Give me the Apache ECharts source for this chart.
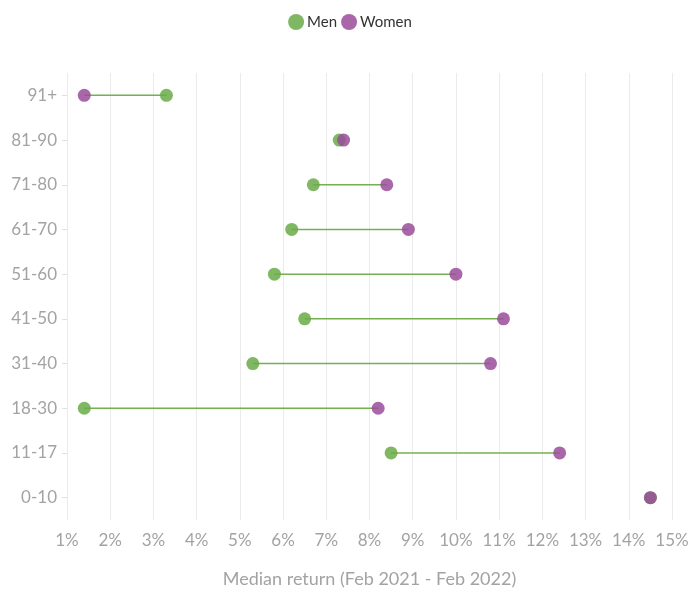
<!DOCTYPE html>
<html>
<head>
<meta charset="utf-8">
<script src="https://cdn.jsdelivr.net/npm/echarts@6/dist/echarts.min.js"></script>
<style>html,body{margin:0;padding:0;background:#fff}#c{width:700px;height:600px}</style>
</head>
<body>
<div id="c"></div>
<script>
var categories = ['0-10','11-17','18-30','31-40','41-50','51-60','61-70','71-80','81-90','91+'];
var menValues   = [14.5, 8.5, 1.4, 5.3, 6.5, 5.8, 6.2, 6.7, 7.3, 3.3];
var womenValues = [14.5, 12.4, 8.2, 10.8, 11.1, 10.0, 8.9, 8.4, 7.4, 1.4];
var xTicks = [1,2,3,4,5,6,7,8,9,10,11,12,13,14,15];

var FONT = 'Lato, "Open Sans", sans-serif';
var chart = echarts.init(document.getElementById('c'), null, {renderer:'canvas'});
var pairData = categories.map(function(c,i){ return [menValues[i], womenValues[i], i]; });

chart.setOption({
  animation:false,
  textStyle:{fontFamily:FONT},
  legend:{
    top:9, left:'center', icon:'circle', itemWidth:16, itemHeight:16, itemGap:4,
    textStyle:{fontSize:15, color:'#333', fontFamily:FONT, padding:[0,0,0,-2]},
    data:['Men','Women']
  },
  grid:{left:67, right:28, top:73, bottom:80},
  xAxis:{
    type:'value', min:xTicks[0], max:xTicks[xTicks.length-1], interval:1,
    name:'Median return (Feb 2021 - Feb 2022)', nameLocation:'middle', nameGap:50,
    nameTextStyle:{fontSize:18, color:'#a3a3a3', fontFamily:FONT},
    axisLine:{show:false}, axisTick:{show:false},
    axisLabel:{fontSize:17, color:'#a3a3a3', margin:12, formatter:function(v){return v+'%';}},
    splitLine:{show:true, lineStyle:{color:'#ebebeb', width:1}}
  },
  yAxis:{
    type:'category', data:categories,
    axisLine:{show:false},
    axisTick:{show:true, alignWithLabel:true, length:5, lineStyle:{color:'#e0e0e0'}},
    axisLabel:{fontSize:17, color:'#a3a3a3', margin:10},
    splitLine:{show:false}
  },
  series:[
    {
      type:'custom', name:'link', silent:true, z:1,
      data:pairData,
      encode:{x:[0,1], y:2},
      renderItem:function(params, api){
        var p1 = api.coord([api.value(0), api.value(2)]);
        var p2 = api.coord([api.value(1), api.value(2)]);
        return {type:'line', shape:{x1:p1[0], y1:p1[1], x2:p2[0], y2:p2[1]},
          style:{stroke:'#74b04f', lineWidth:1.5}};
      }
    },
    {
      type:'scatter', name:'Men', z:2, symbolSize:13,
      data:categories.map(function(c,i){return [menValues[i], c];}),
      itemStyle:{color:'#6aaa48', opacity:0.85}
    },
    {
      type:'scatter', name:'Women', z:3, symbolSize:13,
      data:categories.map(function(c,i){return [womenValues[i], c];}),
      itemStyle:{color:'#9a4c9a', opacity:0.85}
    }
  ]
});
</script>
</body>
</html>
